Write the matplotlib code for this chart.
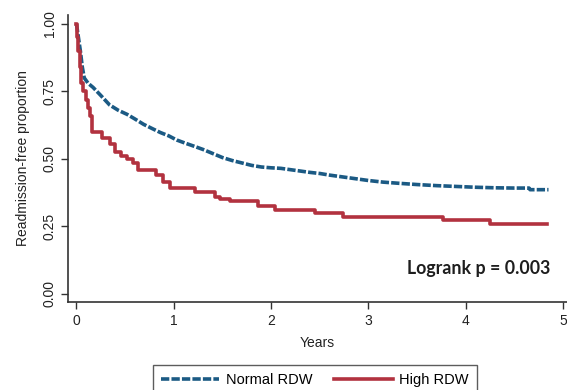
import matplotlib
matplotlib.use("Agg")
import matplotlib.pyplot as plt

# Normal RDW (blue, dashed) Kaplan-Meier estimate
normal_years = [0.0, 0.02, 0.04, 0.06, 0.08, 0.12, 0.17, 0.25, 0.34, 0.43, 0.52, 0.60,
                0.69, 0.78, 0.86, 0.95, 1.03, 1.12, 1.20, 1.30, 1.40, 1.50, 1.60, 1.70,
                1.80, 1.90, 2.00, 2.10, 2.20, 2.30, 2.40, 2.50, 2.60, 2.70, 2.80, 2.90,
                3.00, 3.15, 3.30, 3.50, 3.70, 3.90, 4.10, 4.30, 4.50, 4.65, 4.66, 4.85]
normal_surv = [1.0, 0.95, 0.90, 0.84, 0.80, 0.78, 0.765, 0.735, 0.70, 0.68, 0.665, 0.648,
               0.628, 0.612, 0.598, 0.585, 0.57, 0.558, 0.548, 0.535, 0.52, 0.505, 0.494, 0.485,
               0.476, 0.47, 0.467, 0.465, 0.46, 0.455, 0.45, 0.446, 0.44, 0.435, 0.43, 0.425,
               0.42, 0.414, 0.41, 0.405, 0.401, 0.398, 0.395, 0.393, 0.392, 0.392, 0.386, 0.386]

# High RDW (red, solid)
high_years = [0.0, 0.01, 0.02, 0.035, 0.05, 0.07, 0.10, 0.12, 0.14, 0.16, 0.26, 0.34,
              0.40, 0.46, 0.52, 0.58, 0.63, 0.82, 0.89, 0.96, 1.22, 1.42, 1.47, 1.58,
              1.87, 2.04, 2.45, 2.74, 3.77, 4.25, 4.83]
high_surv = [1.0, 0.95, 0.90, 0.84, 0.78, 0.75, 0.72, 0.69, 0.66, 0.60, 0.576, 0.557,
             0.525, 0.51, 0.50, 0.483, 0.46, 0.44, 0.413, 0.392, 0.377, 0.358, 0.35, 0.343,
             0.327, 0.31, 0.30, 0.286, 0.275, 0.26, 0.26]

x_ticks = [0, 1, 2, 3, 4, 5]
y_ticks = [0.0, 0.25, 0.5, 0.75, 1.0]
y_ticklabels = ["0.00", "0.25", "0.50", "0.75", "1.00"]

blue = "#1b5a84"
red = "#b2323f"

plt.rcParams['font.family'] = ['Liberation Sans', 'DejaVu Sans']

W, H = 567, 390
fig = plt.figure(figsize=(W / 100, H / 100), dpi=100)
ax = fig.add_axes([68 / W, (H - 302) / H, 1 - 68 / W, (302 - 15) / H])

ax.plot(normal_years, normal_surv, color=blue, lw=2.6,
        dashes=(2.3, 0.6), label='Normal RDW')
ax.step(high_years, high_surv, where='post', color=red, lw=2.6, label='High RDW')

ax.set_xlim(-0.087, 5.04)
ax.set_ylim(-0.03, 1.033)
ax.set_xticks(x_ticks)
ax.set_yticks(y_ticks)
ax.set_yticklabels(y_ticklabels, rotation=90, va='center')
ax.tick_params(axis='both', labelsize=10, length=5, width=1, color='#333333', labelcolor='#222222')
ax.tick_params(axis='y', pad=3)
for s in ['top', 'right']:
    ax.spines[s].set_visible(False)
for s in ['left', 'bottom']:
    ax.spines[s].set_color('#333333')
    ax.spines[s].set_linewidth(1.2)

ax.set_xlabel('Years', fontsize=10, color='#222222', labelpad=6)
ax.set_ylabel('Readmission-free proportion', fontsize=10, color='#222222', labelpad=9)

ax.text(4.87, 0.095, 'Logrank p = 0.003', fontsize=12.8, fontweight='bold',
        family=['Lato', 'DejaVu Sans'], ha='right', va='center', color='#1e1e1e')

leg = fig.legend(loc='upper left', bbox_to_anchor=(153 / W, 1 - 365 / H), ncol=2,
                 fontsize=10.5, handlelength=4.0, handletextpad=0.45, columnspacing=1.5,
                 frameon=True, fancybox=False, borderaxespad=0, borderpad=0.55)
leg.get_frame().set_edgecolor('#333333')
leg.get_frame().set_linewidth(1.0)

fig.savefig('out.png', dpi=100)
